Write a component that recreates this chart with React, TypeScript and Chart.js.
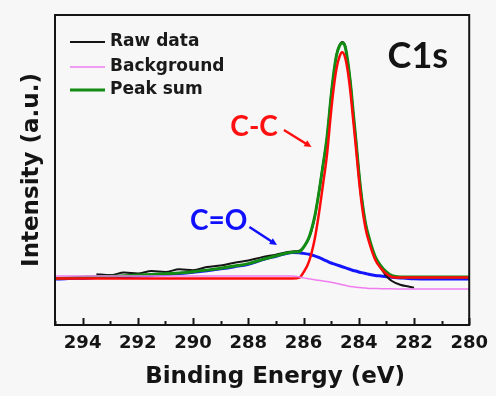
import React, { useEffect, useRef } from "react";
import { Chart, registerables } from "chart.js";
Chart.register(...registerables);

// Binding energy grid (eV)
const ENERGY = [
  295, 294.5, 294, 293.5, 293, 292.5, 292, 291.5, 291, 290.5, 290, 289.5, 289, 288.5, 288, 287.5, 287,
  286.7, 286.4, 286.15, 286.0, 285.8, 285.6, 285.45, 285.3, 285.15, 285.0, 284.9, 284.8, 284.7, 284.6,
  284.5, 284.4, 284.3, 284.2, 284.1, 284.0, 283.9, 283.75, 283.6, 283.4, 283.2, 283.0, 282.8, 282.5,
  282.2, 282.0, 281.5, 281, 280.5, 280,
];

const RAW_DATA = [
  null, null, null, 16.4, 16.1, 16.9, 16.6, 17.4, 17.1, 18.0, 17.7, 18.7, 19.2, 20.1, 20.8, 21.9, 22.7,
  23.3, 23.7, 24.0, 25.0, 28.0, 34.5, 42.5, 51.5, 60.5, 74.3, 81.5, 87.4, 90.2, 91.3,
  90.3, 85.0, 78.2, 68.4, 59.6, 49.8, 41.6, 32.4, 27.0, 21.6, 18.4, 15.8, 14.2, 13.0,
  12.4, 12.0, null, null, null, null,
];

const BACKGROUND = [
  15.8, 15.8, 15.8, 15.8, 15.8, 15.8, 15.8, 15.8, 15.8, 15.8, 15.8, 15.8, 15.8, 15.8, 15.8, 15.8, 15.8,
  15.8, 15.8, 15.5, 15.2, 14.9, 14.6, 14.4, 14.2, 14.0, 13.8, 13.6, 13.4, 13.2, 13.0,
  12.8, 12.6, 12.4, 12.3, 12.2, 12.1, 12.0, 11.9, 11.8, 11.8, 11.7, 11.7, 11.7, 11.6,
  11.6, 11.6, 11.6, 11.6, 11.6, 11.6,
];

const PEAK_SUM = [
  15.0, 15.2, 15.4, 15.6, 15.7, 15.9, 16.1, 16.3, 16.5, 16.8, 17.2, 17.7, 18.3, 19.0, 19.8, 21.1, 22.3,
  23.0, 23.5, 23.6, 25.1, 28.3, 34.8, 42.3, 51.2, 60.6, 74.0, 81.7, 87.2, 90.0, 91.0,
  90.0, 85.2, 77.9, 68.6, 59.4, 49.6, 41.4, 32.6, 27.3, 22.0, 19.1, 17.1, 15.9, 15.5,
  15.5, 15.5, 15.5, 15.5, 15.5, 15.5,
];

const C_C = [
  15.0, 15.0, 15.0, 15.0, 15.0, 15.0, 15.0, 15.0, 15.0, 15.0, 15.0, 15.0, 15.0, 15.0, 15.0, 15.0, 15.0,
  15.0, 15.0, 15.3, 17.0, 20.5, 27.5, 35.5, 45.0, 55.0, 69.0, 77.0, 83.0, 86.5, 88.0,
  86.5, 82.0, 75.0, 66.0, 57.0, 47.5, 39.5, 31.0, 26.0, 21.0, 18.3, 16.5, 15.5, 15.3,
  15.3, 15.3, 15.3, 15.3, 15.3, 15.3,
];

const C_O = [
  14.8, 15.0, 15.1, 15.3, 15.4, 15.6, 15.8, 16.0, 16.3, 16.6, 17.0, 17.5, 18.1, 18.8, 19.6, 21.0, 22.2,
  22.9, 23.4, 23.3, 23.1, 22.8, 22.3, 21.8, 21.2, 20.6, 20.0, 19.7, 19.4, 19.1, 18.8,
  18.5, 18.2, 17.9, 17.6, 17.4, 17.1, 16.9, 16.6, 16.3, 16.0, 15.8, 15.6, 15.4, 15.2,
  15.0, 14.9, 14.8, 14.8, 14.8, 14.8,
];

const X_MIN = 280;
const X_MAX = 295;
const X_TITLE = "Binding Energy (eV)";
const Y_TITLE = "Intensity (a.u.)";
const LEGEND_LABELS = ["Raw data", "Background", "Peak sum"];

// Text annotations in data coordinates
const LABEL_TEXTS = ["C1s", "C-C", "C=O"];
const LABEL_E = [281.86, 287.79, 289.07];
const LABEL_I = [86.5, 63.9, 33.5];
// Arrows: from (E, I) to (E, I)
const ARROW_FROM_E = [286.71, 287.96];
const ARROW_FROM_I = [62.9, 31.6];
const ARROW_TO_E = [285.71, 286.96];
const ARROW_TO_I = [57.4, 25.8];

const BOLD = "'DejaVu Sans', sans-serif";

const pts = (vals: (number | null)[]) => ENERGY.map((e, i) => ({ x: e, y: vals[i] }));

const framePlugin = {
  id: "frameTicks",
  afterDraw(chart: any) {
    const { ctx, chartArea, scales } = chart;
    const xs = scales.x;
    ctx.save();
    ctx.strokeStyle = "#141414";
    ctx.lineWidth = 2;
    for (const t of xs.ticks) {
      const px = Math.round(xs.getPixelForValue(t.value)) + 0.5;
      const len = t.value % 2 === 0 ? 7 : 4;
      ctx.beginPath();
      ctx.moveTo(px, chartArea.bottom);
      ctx.lineTo(px, chartArea.bottom - len);
      ctx.stroke();
    }
    ctx.strokeRect(chartArea.left, chartArea.top, chartArea.right - chartArea.left, chartArea.bottom - chartArea.top);
    // x axis title
    ctx.fillStyle = "#141414";
    ctx.font = `bold 23px ${BOLD}`;
    ctx.textAlign = "center";
    ctx.textBaseline = "middle";
    ctx.fillText(X_TITLE, (chartArea.left + chartArea.right) / 2 + 13, chartArea.bottom + 52);
    ctx.restore();
  },
};

const legendPlugin = {
  id: "insideLegend",
  afterDraw(chart: any) {
    const { ctx, chartArea } = chart;
    ctx.save();
    ctx.font = `bold 17px ${BOLD}`;
    ctx.textBaseline = "middle";
    ctx.textAlign = "left";
    const rowsY = [27, 52, 75];
    LEGEND_LABELS.forEach((label, i) => {
      const ds = chart.data.datasets.find((d: any) => d.label === label);
      const y = chartArea.top + rowsY[i];
      ctx.strokeStyle = ds.borderColor;
      ctx.lineWidth = ds.borderWidth;
      ctx.beginPath();
      ctx.moveTo(chartArea.left + 15, y);
      ctx.lineTo(chartArea.left + 50, y);
      ctx.stroke();
      ctx.fillStyle = "#1a1a1a";
      ctx.fillText(label, chartArea.left + 55, y);
    });
    ctx.restore();
  },
};

const annotationPlugin = {
  id: "annotations",
  afterDraw(chart: any) {
    const { ctx, scales } = chart;
    const xs = scales.x;
    const ys = scales.y;
    const colors = ["#141414", "#ff1010", "#1010ff"];
    const sizes = [36, 28, 28];
    ctx.save();
    ctx.textAlign = "center";
    ctx.textBaseline = "middle";
    LABEL_TEXTS.forEach((t, i) => {
      ctx.font = `bold ${sizes[i]}px Lato, sans-serif`;
      ctx.fillStyle = colors[i];
      ctx.fillText(t, xs.getPixelForValue(LABEL_E[i]), ys.getPixelForValue(LABEL_I[i]));
    });
    const arrowColors = ["#ff1010", "#1010ff"];
    ARROW_FROM_E.forEach((_, i) => {
      const x1 = xs.getPixelForValue(ARROW_FROM_E[i]);
      const y1 = ys.getPixelForValue(ARROW_FROM_I[i]);
      const x2 = xs.getPixelForValue(ARROW_TO_E[i]);
      const y2 = ys.getPixelForValue(ARROW_TO_I[i]);
      const ang = Math.atan2(y2 - y1, x2 - x1);
      const head = 8;
      ctx.strokeStyle = arrowColors[i];
      ctx.fillStyle = arrowColors[i];
      ctx.lineWidth = 2.5;
      ctx.beginPath();
      ctx.moveTo(x1, y1);
      ctx.lineTo(x2 - Math.cos(ang) * head * 0.8, y2 - Math.sin(ang) * head * 0.8);
      ctx.stroke();
      ctx.beginPath();
      ctx.moveTo(x2, y2);
      ctx.lineTo(x2 - head * Math.cos(ang - 0.45), y2 - head * Math.sin(ang - 0.45));
      ctx.lineTo(x2 - head * Math.cos(ang + 0.45), y2 - head * Math.sin(ang + 0.45));
      ctx.closePath();
      ctx.fill();
    });
    ctx.restore();
  },
};

export default function App() {
  const canvasRef = useRef<HTMLCanvasElement | null>(null);

  useEffect(() => {
    const canvas = canvasRef.current;
    if (!canvas) return;
    const chart = new Chart(canvas, {
      type: "line",
      data: {
        datasets: [
          { label: "Background", data: pts(BACKGROUND), borderColor: "#f07cf0", borderWidth: 1.5 },
          { label: "C-C", data: pts(C_C), borderColor: "#ff0a0a", borderWidth: 2.5 },
          { label: "Peak sum", data: pts(PEAK_SUM), borderColor: "#138c13", borderWidth: 3 },
          { label: "Raw data", data: pts(RAW_DATA), borderColor: "#141414", borderWidth: 2 },
          { label: "C=O", data: pts(C_O), borderColor: "#1414ff", borderWidth: 3 },
        ],
      },
      options: {
        responsive: false,
        animation: false,
        spanGaps: false,
        elements: {
          point: { radius: 0 },
          line: { cubicInterpolationMode: "monotone", fill: false },
        },
        plugins: { legend: { display: false }, tooltip: { enabled: false } },
        layout: { padding: { top: 15, right: 21, left: 0, bottom: 0 } },
        scales: {
          x: {
            type: "linear",
            reverse: true,
            min: X_MIN,
            max: X_MAX,
            afterFit: (s: any) => {
              s.height = 71;
            },
            grid: { display: false, drawTicks: false },
            border: { display: false },
            ticks: {
              stepSize: 1,
              autoSkip: false,
              maxRotation: 0,
              padding: 8,
              color: "#141414",
              font: { family: BOLD, weight: "bold", size: 18 },
              callback: (v: any) => (Number(v) % 2 === 0 ? String(v) : ""),
            },
            title: { display: false, text: X_TITLE },
          },
          y: {
            min: 0,
            max: 100,
            afterFit: (s: any) => {
              s.width = 55;
            },
            grid: { display: false, drawTicks: false },
            border: { display: false },
            ticks: { display: false },
            title: {
              display: true,
              text: Y_TITLE,
              color: "#141414",
              font: { family: BOLD, weight: "bold", size: 23 },
              padding: { top: 18, bottom: 0 },
            },
          },
        },
      },
      plugins: [framePlugin, legendPlugin, annotationPlugin],
    } as any);
    return () => chart.destroy();
  }, []);

  return (
    <div style={{ position: "fixed", left: 0, top: 0, width: 496, height: 396, background: "#f7f7f7" }}>
      <canvas ref={canvasRef} width={496} height={396} style={{ display: "block" }} />
    </div>
  );
}
